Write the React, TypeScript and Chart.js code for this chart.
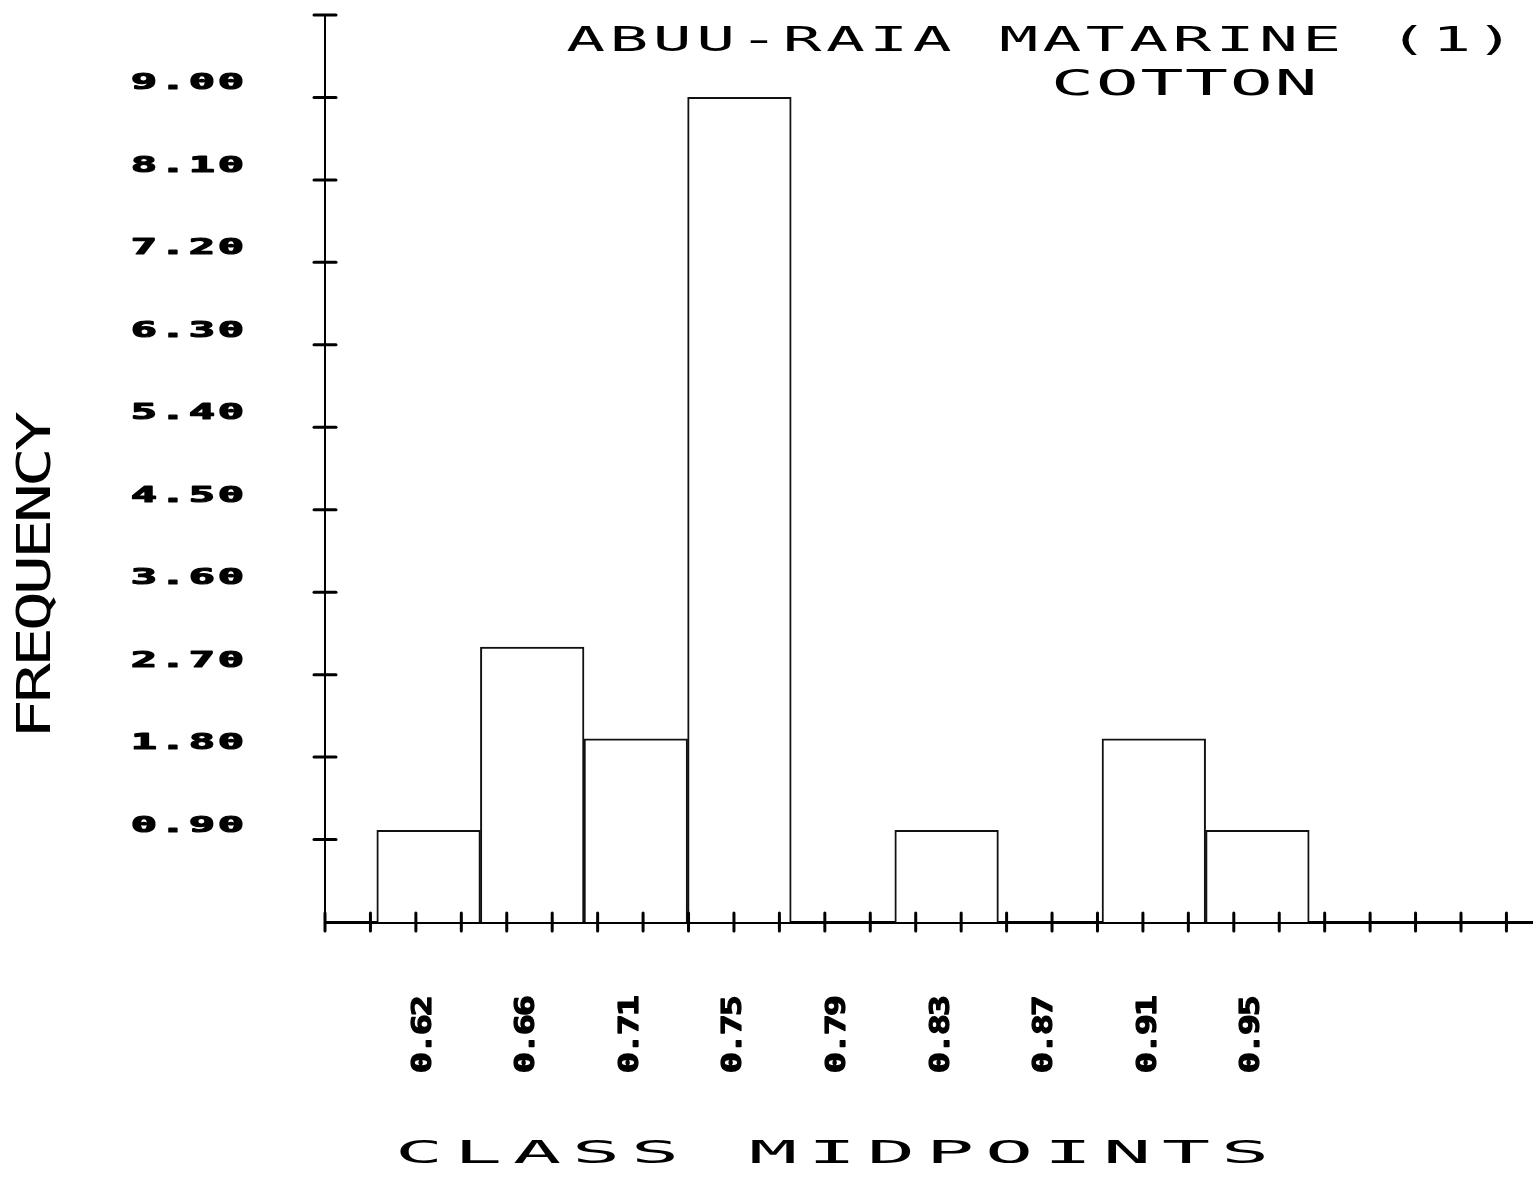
import { useEffect, useRef } from "react";
import { Chart, registerables } from "chart.js";

Chart.register(...registerables);

// ---- data ----
const titleLine = "ABUU-RAIA MATARINE (1)";
const subtitleLine = "COTTON";
const xAxisTitle = "CLASS MIDPOINTS";
const yAxisTitle = "FREQUENCY";

const classMidpoints = ["0.62", "0.66", "0.71", "0.75", "0.79", "0.83", "0.87", "0.91", "0.95"];
const frequencies = [1, 3, 2, 9, 0, 1, 0, 2, 1];

// y axis: tick every 0.9 up to 9.9 (labels 0.90 .. 9.00)
const yTickStep = 0.9;
const yTickCount = 11;
const yLabelCount = 10;
const yMax = 9.9;

// x axis in class-index units; minor tick marks along the axis
const xMin = -1;
const xMax = 10.66;
const xTickStep = 0.4386;
const xTickCount = 27;

const WIDTH = 1533;
const HEIGHT = 1178;

type TextOpts = {
  x: number;
  y: number;
  cap: number;
  glyph: number;
  pitch: number;
  bold?: boolean;
  align?: "left" | "right" | "center";
  rotate?: boolean;
};

// Wide, fixed-pitch pen-plotter style lettering
function plotterText(ctx: CanvasRenderingContext2D, text: string, o: TextOpts) {
  ctx.save();
  const size = o.cap / 0.729;
  ctx.font = `${o.bold ? "bold " : ""}${size}px 'DejaVu Sans Mono', monospace`;
  const m = ctx.measureText("0");
  const gw = m.actualBoundingBoxLeft + m.actualBoundingBoxRight;
  const adv = m.width;
  const sx = o.glyph / gw;
  const ls = o.pitch / sx - adv;
  const total = (text.length - 1) * o.pitch + o.glyph;
  let start = 0;
  if (o.align === "right") start = -total;
  else if (o.align === "center") start = -total / 2;
  ctx.translate(o.x, o.y);
  if (o.rotate) ctx.rotate(-Math.PI / 2);
  ctx.scale(sx, 1);
  (ctx as any).letterSpacing = `${ls}px`;
  ctx.textAlign = "left";
  ctx.textBaseline = "alphabetic";
  ctx.fillStyle = "#000";
  const tx = start / sx + m.actualBoundingBoxLeft;
  ctx.fillText(text, tx, 0);
  if (o.bold) {
    // heavier ink for the bold numerals
    ctx.strokeStyle = "#000";
    ctx.lineWidth = 1.2;
    ctx.lineJoin = "round";
    ctx.strokeText(text, tx, 0);
  }
  ctx.restore();
}

const plotterDecor = {
  id: "plotterDecor",
  afterDraw(chart: Chart) {
    const ctx = chart.ctx;
    const xs = chart.scales.x;
    const ys = chart.scales.y;
    const area = chart.chartArea;

    ctx.save();
    ctx.strokeStyle = "#000";
    ctx.lineCap = "round";

    // y-axis tick marks crossing the axis line
    ctx.lineWidth = 3;
    for (let k = 1; k <= yTickCount; k++) {
      const py = ys.getPixelForValue(k * yTickStep);
      ctx.beginPath();
      ctx.moveTo(area.left - 11, py);
      ctx.lineTo(area.left + 11, py);
      ctx.stroke();
    }

    // x-axis tick marks crossing the axis line
    for (let k = 0; k < xTickCount; k++) {
      const px = xs.getPixelForValue(xMin + k * xTickStep);
      ctx.beginPath();
      ctx.moveTo(px, area.bottom - 9);
      ctx.lineTo(px, area.bottom + 9);
      ctx.stroke();
    }
    ctx.restore();

    // y tick labels
    for (let k = 1; k <= yLabelCount; k++) {
      const v = k * yTickStep;
      const py = ys.getPixelForValue(v);
      plotterText(ctx, v.toFixed(2), {
        x: 243, y: py - 8, cap: 15, glyph: 23, pitch: 29, bold: true, align: "right",
      });
    }

    // x tick labels (class midpoints), rotated
    classMidpoints.forEach((label, i) => {
      const px = xs.getPixelForValue(i);
      plotterText(ctx, label, {
        x: px + 2, y: 1072, cap: 20, glyph: 18, pitch: 19, bold: true, rotate: true,
      });
    });

    // titles
    plotterText(ctx, titleLine, { x: 570, y: 51, cap: 25, glyph: 32, pitch: 43.3 });
    plotterText(ctx, subtitleLine, { x: 1055, y: 95, cap: 26, glyph: 36, pitch: 44.7 });
    plotterText(ctx, xAxisTitle, { x: 400, y: 1163, cap: 23, glyph: 38, pitch: 59 });
    plotterText(ctx, yAxisTitle, { x: 50, y: 735, cap: 34, glyph: 33, pitch: 36, rotate: true });
  },
};

export default function App() {
  const canvasRef = useRef<HTMLCanvasElement | null>(null);

  useEffect(() => {
    document.body.style.margin = "0";
    const canvas = canvasRef.current;
    if (!canvas) return;
    const chart = new Chart(canvas, {
      type: "bar",
      data: {
        datasets: [
          {
            data: frequencies.map((f, i) => ({ x: i, y: f })),
            backgroundColor: "#ffffff",
            borderColor: "#111111",
            borderWidth: 2,
            borderSkipped: "start",
            barPercentage: 1,
            categoryPercentage: 1,
          },
        ],
      },
      options: {
        responsive: false,
        animation: false,
        devicePixelRatio: 1,
        layout: { padding: { left: 325, right: 0, top: 15, bottom: HEIGHT - 922 } },
        plugins: {
          legend: { display: false },
          tooltip: { enabled: false },
          title: { display: false },
        },
        scales: {
          x: {
            type: "linear",
            min: xMin,
            max: xMax,
            offset: false,
            grid: { display: false, drawTicks: false },
            ticks: { display: false },
            border: { display: true, color: "#000", width: 3 },
            // one tick per class so each bar spans a full class width
            afterBuildTicks: (scale: any) => {
              scale.ticks = classMidpoints.map((_, i) => ({ value: i }));
            },
          },
          y: {
            type: "linear",
            min: 0,
            max: yMax,
            grid: { display: false, drawTicks: false },
            ticks: { display: false, stepSize: yTickStep },
            border: { display: true, color: "#000", width: 2 },
          },
        },
      },
      plugins: [plotterDecor],
    });
    return () => chart.destroy();
  }, []);

  return (
    <div style={{ width: WIDTH, height: HEIGHT, background: "#fff" }}>
      <canvas ref={canvasRef} width={WIDTH} height={HEIGHT} style={{ display: "block" }} />
    </div>
  );
}
